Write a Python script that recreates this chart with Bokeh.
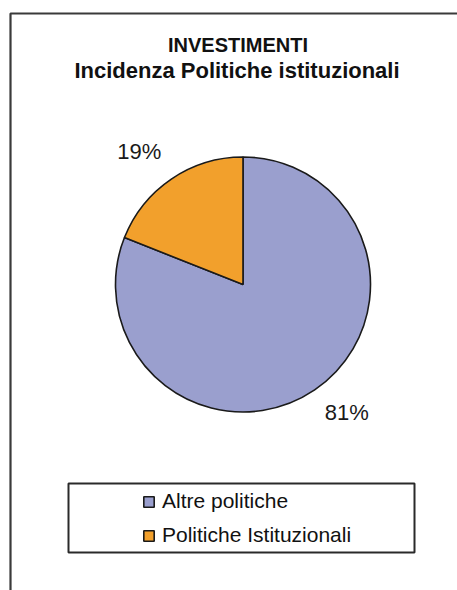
import math
from bokeh.plotting import figure
from bokeh.models import ColumnDataSource, Legend, LegendItem, BoxAnnotation, Label
from bokeh.embed import file_html
from bokeh.resources import INLINE

# ---- data ----
title_line1 = "INVESTIMENTI"
title_line2 = "Incidenza Politiche istituzionali"
categories = ["Altre politiche", "Politiche Istituzionali"]
values = [81, 19]
colors = ["#9A9FCE", "#F2A02C"]

FONT = "Liberation Sans"
W, H = 457, 590

p = figure(width=W, height=H, x_range=(0, W), y_range=(0, H),
           output_backend="svg", toolbar_location=None, min_border=0)
p.axis.visible = False
p.grid.visible = False
p.outline_line_color = None
p.background_fill_color = "white"

# outer chart frame (open to the right/bottom like the cropped original)
p.add_layout(BoxAnnotation(left=10, top=577, right=W + 10, bottom=-10,
                           fill_alpha=0, line_color="#3a3a3a", line_alpha=1,
                           line_width=2.2))

# pie geometry
cx, cy, r = 242.5, 306, 127.5
total = float(sum(values))
starts, ends, mids = [], [], []
acc = 0.0
for v in values:
    a0 = math.pi / 2 - 2 * math.pi * acc / total
    acc += v
    a1 = math.pi / 2 - 2 * math.pi * acc / total
    starts.append(a0)
    ends.append(a1)
    mids.append((a0 + a1) / 2)

src = ColumnDataSource(dict(x=[cx] * len(values), y=[cy] * len(values),
                            start=starts, end=ends, color=colors,
                            cat=categories, val=values))
wr = p.wedge(x="x", y="y", radius=r, start_angle="start", end_angle="end",
             direction="clock", fill_color="color", line_color="#1a1a1a",
             line_width=1.6, source=src)

# percentage labels, outside end, anchored on the corner facing the pie
R = r + 18
for v, m in zip(values, mids):
    lx = cx + R * math.cos(m)
    ly = cy + R * math.sin(m)
    upper = math.sin(m) > 0
    align = "right" if math.cos(m) < 0 else "left"
    base = "alphabetic" if upper else "top"
    p.add_layout(Label(x=lx, y=ly, text=f"{round(100 * v / total)}%",
                       text_font=FONT, text_font_size="22px",
                       text_color="#1a1a1a", text_align=align,
                       text_baseline=base,
                       y_offset=13 if upper else 5))

# title
p.add_layout(Label(x=237.5, y=546, text=title_line1, text_font=FONT,
                   text_font_size="20px", text_font_style="bold",
                   text_color="#111111", text_align="center",
                   text_baseline="alphabetic"))
p.add_layout(Label(x=236.5, y=520, text=title_line2, text_font=FONT,
                   text_font_size="22px", text_font_style="bold",
                   text_color="#111111", text_align="center",
                   text_baseline="alphabetic"))

# legend box
p.add_layout(BoxAnnotation(left=68, right=414, top=107, bottom=38,
                           fill_color="white", fill_alpha=1,
                           line_color="#2a2a2a", line_alpha=1, line_width=2))

items = [LegendItem(label=c, renderers=[wr], index=i)
         for i, c in enumerate(categories)]
legend = Legend(items=items, location=(142, 43), orientation="vertical",
                border_line_alpha=0, background_fill_alpha=0,
                padding=0, margin=0, spacing=10,
                glyph_width=13, glyph_height=13, label_standoff=7,
                label_height=24,
                label_text_font=FONT, label_text_font_size="21px",
                label_text_color="#111111")
p.add_layout(legend, "center")

open("out.html", "w").write(file_html(p, INLINE))
